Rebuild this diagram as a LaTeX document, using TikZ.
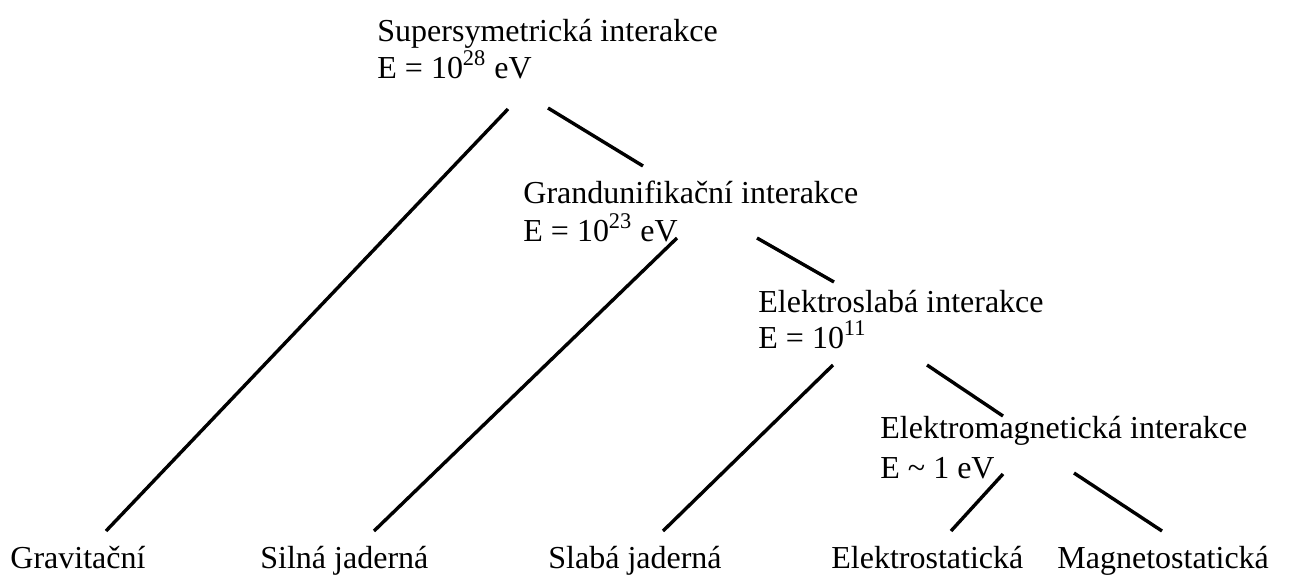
\documentclass[tikz,border=0pt]{standalone}
\usepackage{fontspec}
\setmainfont{Liberation Serif}
\begin{document}
\begin{tikzpicture}[x=0.5pt,y=-0.5pt,
    txt/.style={anchor=base west, inner sep=0pt, font=\fontsize{16}{19}\selectfont},
    branch/.style={line width=1.7pt}]
        \useasboundingbox (0,0) rectangle (1298,574);

        % Draw unified interactions
        \node[txt] (susy) at (377,41) {Supersymetrická interakce};
        \node[txt] (susyE) at (377,78) {E = 10\textsuperscript{28} eV};
        \node[txt] (gut) at (523,203) {Grandunifikační interakce};
        \node[txt] (gutE) at (523,241) {E = 10\textsuperscript{23} eV};
        \node[txt] (ew) at (758,312) {Elektroslabá interakce};
        \node[txt] (ewE) at (758,348) {E = 10\textsuperscript{11}};
        \node[txt] (em) at (880,438) {Elektromagnetická interakce};
        \node[txt] (emE) at (880,478) {E \textasciitilde{} 1 eV};

        % Draw basic interactions
        \node[txt] (grav) at (10,568) {Gravitační};
        \node[txt] (strong) at (260,568) {Silná jaderná};
        \node[txt] (weak) at (548,568) {Slabá jaderná};
        \node[txt] (estat) at (831,568) {Elektrostatická};
        \node[txt] (mstat) at (1057,568) {Magnetostatická};

        % Branch ends
        \coordinate (susyL) at (508,109);
        \coordinate (susyR) at (548,108);
        \coordinate (gutT) at (643,166);
        \coordinate (gutL) at (677,238);
        \coordinate (gutR) at (757,238);
        \coordinate (ewT) at (834,282);
        \coordinate (ewL) at (833,365);
        \coordinate (ewR) at (927,365);
        \coordinate (emT) at (1003,416);
        \coordinate (emL) at (1003,474);
        \coordinate (emR) at (1074,473);
        \coordinate (gravT) at (106,531);
        \coordinate (strongT) at (374,531);
        \coordinate (weakT) at (663,531);
        \coordinate (estatT) at (951,531);
        \coordinate (mstatT) at (1162,531);

        % Draw branches
        \draw[branch] (susyL) -- (gravT);
        \draw[branch] (susyR) -- (gutT);
        \draw[branch] (gutL) -- (strongT);
        \draw[branch] (gutR) -- (ewT);
        \draw[branch] (ewL) -- (weakT);
        \draw[branch] (ewR) -- (emT);
        \draw[branch] (emL) -- (estatT);
        \draw[branch] (emR) -- (mstatT);
    \end{tikzpicture}
\end{document}
